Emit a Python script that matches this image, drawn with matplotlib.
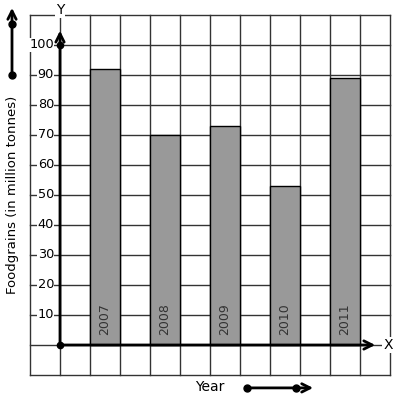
import matplotlib.pyplot as plt
import numpy as np

years = ["2007", "2008", "2009", "2010", "2011"]
foodgrains = [92, 70, 73, 53, 89]
yticks = [10, 20, 30, 40, 50, 60, 70, 80, 90, 100]

fig = plt.figure(figsize=(3.97, 4.01), dpi=100)
ax = fig.add_axes([0, 0, 1, 1])
ax.set_xlim(-2, 11.2333)
ax.set_ylim(-18.667, 115)
ax.axis("off")

# square grid
for u in range(-1, 12):
    ax.plot([u, u], [-10, 110], color="#333333", lw=1, zorder=1)
for v in range(-10, 111, 10):
    ax.plot([-1, 11], [v, v], color="#333333", lw=1, zorder=1)

# bars, one cell wide with a gap cell between
xpos = np.arange(len(years)) * 2 + 1.5
ax.bar(xpos, foodgrains, width=1, color="#999999", edgecolor="black", lw=1, zorder=2)
for x, yr in zip(xpos, years):
    ax.text(x, 3.3, yr, rotation=90, ha="center", va="bottom", fontsize=9,
            color="#333333", zorder=3)

# axes with arrows
ax.annotate("", xy=(10.6, 0), xytext=(0, 0),
            arrowprops=dict(arrowstyle="->", lw=2, color="black", mutation_scale=15), zorder=4)
ax.annotate("", xy=(0, 105.7), xytext=(0, 0),
            arrowprops=dict(arrowstyle="->", lw=2, color="black", mutation_scale=15), zorder=4)
ax.plot([0, 0], [0, 100], "o", color="black", ms=4.5, zorder=5)
ax.text(10.93, 0, "X", ha="center", va="center", fontsize=10, zorder=5,
        bbox=dict(facecolor="white", edgecolor="none", pad=0.5))
ax.text(0, 111.7, "Y", ha="center", va="center", fontsize=10, zorder=5,
        bbox=dict(facecolor="white", edgecolor="none", pad=0.5))

# tick labels
for t in yticks:
    ax.text(-0.2, t, str(t), ha="right", va="center", fontsize=9.3, zorder=5,
            bbox=dict(facecolor="white", edgecolor="none", pad=0.2))

# y label with its arrow
ax.text(-1.6, 50, "Foodgrains (in million tonnes)", rotation=90, ha="center",
        va="center", fontsize=9.5)
ax.annotate("", xy=(-1.6, 113.3), xytext=(-1.6, 90),
            arrowprops=dict(arrowstyle="->", lw=2, color="black", mutation_scale=15))
ax.plot([-1.6, -1.6], [90, 107], "o", color="black", ms=5, zorder=5)

# x label with its arrow
ax.text(5, -14, "Year", ha="center", va="center", fontsize=10)
ax.annotate("", xy=(8.53, -14.3), xytext=(6.23, -14.3),
            arrowprops=dict(arrowstyle="->", lw=2, color="black", mutation_scale=15))
ax.plot([6.23, 7.87], [-14.3, -14.3], "o", color="black", ms=5, zorder=5)

plt.savefig("out.png", dpi=100)
